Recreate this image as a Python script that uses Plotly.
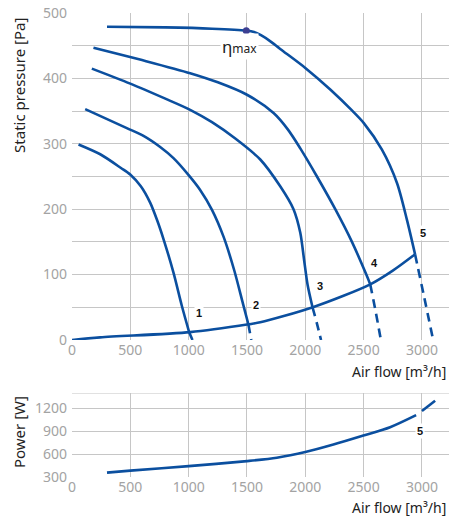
import plotly.graph_objects as go

# ---- data ----
c1_x = [56, 242, 420, 499, 590, 670, 730, 785, 870, 942, 1006]
c1_y = [299, 284, 263, 253, 235, 210, 183, 154, 103, 52, 11]
c1d_x = [1006, 1033]
c1d_y = [11, 0]

c2_x = [113, 470, 613, 756, 870, 1000, 1100, 1200, 1299, 1390, 1465, 1512]
c2_y = [353, 324, 312, 295, 278, 252, 229, 199, 158, 107, 56, 24]
c2d_x = [1512, 1537]
c2d_y = [24, 0]

c3_x = [170, 500, 800, 1013, 1200, 1400, 1614, 1785, 1899, 1957, 1990, 2020, 2062]
c3_y = [415, 392, 369, 352, 333, 308, 276, 235, 200, 164, 122, 84, 50]
c3d_x = [2062, 2100, 2135]
c3d_y = [50, 25, 0]

c4_x = [184, 600, 1013, 1250, 1500, 1728, 1850, 1957, 2100, 2257, 2400, 2523, 2557]
c4_y = [447, 428, 408, 394, 375, 347, 322, 293, 250, 200, 150, 100, 85]
c4d_x = [2557, 2605, 2648]
c4d_y = [85, 42, 0]

c5_x = [300, 800, 1200, 1494, 1560, 1620, 1698, 1785, 2000, 2214, 2400, 2500, 2657, 2786, 2871, 2941]
c5_y = [479, 478, 476, 473, 471, 466, 457, 445, 416, 383, 351, 332, 291, 240, 184, 131]
c5d_x = [2941, 3020, 3096]
c5d_y = [131, 65, 0]

sys_x = [0, 242, 1013, 1514, 1614, 2065, 2557, 2750, 2941]
sys_y = [0, 4, 12, 24, 27, 50, 85, 106, 131]

eta_x = [1494]
eta_y = [473]

lbl_text = ["1", "2", "3", "4", "5"]
lbl_x = [1091, 1576, 2122, 2591, 3013]
lbl_y = [42, 54, 83, 118, 163]

pw_x = [300, 500, 1000, 1500, 1756, 2000, 2241, 2498, 2727, 2950]
pw_y = [357, 383, 443, 508, 552, 626, 725, 843, 952, 1110]
pw2_x = [3000, 3113]
pw2_y = [1165, 1299]

x_ticks = [0, 500, 1000, 1500, 2000, 2500, 3000]
p_ticks = [0, 100, 200, 300, 400, 500]
w_ticks = [300, 600, 900, 1200]

BLUE = "#0b4f9f"
GRID = "#c6c6c6"
TICKC = "#a3a3a3"
FONT = "Noto Sans"

fig = go.Figure()

def add_line(x, y, dash="solid", xa="x", ya="y"):
    fig.add_trace(go.Scatter(x=x, y=y, mode="lines", xaxis=xa, yaxis=ya,
                             line=dict(color=BLUE, width=2.6, dash=dash, shape="spline", smoothing=0.8),
                             hoverinfo="skip", showlegend=False))

DASH = "9px,6px"
for sx, sy, dx, dy in [(c1_x, c1_y, c1d_x, c1d_y), (c2_x, c2_y, c2d_x, c2d_y),
                       (c3_x, c3_y, c3d_x, c3d_y), (c4_x, c4_y, c4d_x, c4d_y),
                       (c5_x, c5_y, c5d_x, c5d_y)]:
    add_line(sx, sy)
    add_line(dx, dy, dash=DASH)
add_line(sys_x, sys_y)

fig.add_trace(go.Scatter(x=eta_x, y=eta_y, mode="markers",
                         marker=dict(color="#3c3f92", size=7), showlegend=False, hoverinfo="skip"))

add_line(pw_x, pw_y, xa="x2", ya="y2")
add_line(pw2_x, pw2_y, xa="x2", ya="y2")

for t, x, y in zip(lbl_text, lbl_x, lbl_y):
    fig.add_annotation(x=x, y=y, xref="x", yref="y", text="<b>%s</b>" % t, showarrow=False,
                       font=dict(family="Liberation Sans", size=11, color="#111"),
                       bgcolor="white", borderpad=1)
fig.add_annotation(x=2985, y=903, xref="x2", yref="y2", text="<b>5</b>", showarrow=False,
                   font=dict(family="Liberation Sans", size=11, color="#111"),
                   bgcolor="white", borderpad=1)
fig.add_annotation(x=1440, y=449, xref="x", yref="y",
                   text="η<span style='font-size:12px'>max</span>", showarrow=False,
                   font=dict(family=FONT, size=17, color="#222"), bgcolor="white", borderpad=1)

xmax = 3232
axis_common = dict(showgrid=True, gridcolor=GRID, gridwidth=1, zeroline=False, automargin=False,
                   tickfont=dict(family=FONT, size=14, color=TICKC), ticks="", showline=False)

fig.update_layout(
    width=449, height=522, plot_bgcolor="white", paper_bgcolor="white",
    margin=dict(l=72, r=0, t=13, b=45),
    xaxis=dict(domain=[0, 1], range=[0, xmax], tickvals=x_ticks, anchor="y", **axis_common),
    yaxis=dict(domain=[0.2953, 1], range=[0, 500], tickvals=p_ticks, anchor="x",
               minor=dict(dtick=50, showgrid=True, gridcolor=GRID, gridwidth=1), ticklabelstandoff=4,
               **axis_common),
    xaxis2=dict(domain=[0, 1], range=[0, xmax], tickvals=x_ticks, anchor="y2", **axis_common),
    yaxis2=dict(domain=[0, 0.181], range=[300, 1400], tickvals=w_ticks, anchor="x2", ticklabelstandoff=4,
                **axis_common),
    shapes=[dict(type="line", xref="x2 domain", yref="y2", x0=0, x1=1, y0=1400, y1=1400,
                 line=dict(color=GRID, width=1))],
)

TITLEF = dict(family=FONT, size=14, color="#222")
fig.add_annotation(text="Air flow [m³/h]", xref="paper", yref="paper", x=1, y=0.2263, xshift=-1,
                   xanchor="right", yanchor="middle", showarrow=False, font=TITLEF)
fig.add_annotation(text="Air flow [m³/h]", xref="paper", yref="paper", x=1, y=-0.0668, xshift=-1,
                   xanchor="right", yanchor="middle", showarrow=False, font=TITLEF)
fig.add_annotation(text="Static pressure [Pa]", xref="paper", yref="paper", x=-0.1405, y=0.843,
                   xanchor="center", yanchor="middle", textangle=-90, showarrow=False,
                   font=dict(family=FONT, size=15, color="#222"))
fig.add_annotation(text="Power [W]", xref="paper", yref="paper", x=-0.1405, y=0.097,
                   xanchor="center", yanchor="middle", textangle=-90, showarrow=False,
                   font=dict(family=FONT, size=15, color="#222"))

fig.write_html("out.html", config={"displayModeBar": False, "staticPlot": True},
               post_script="document.body.style.margin='0';document.documentElement.style.overflow='hidden';")
